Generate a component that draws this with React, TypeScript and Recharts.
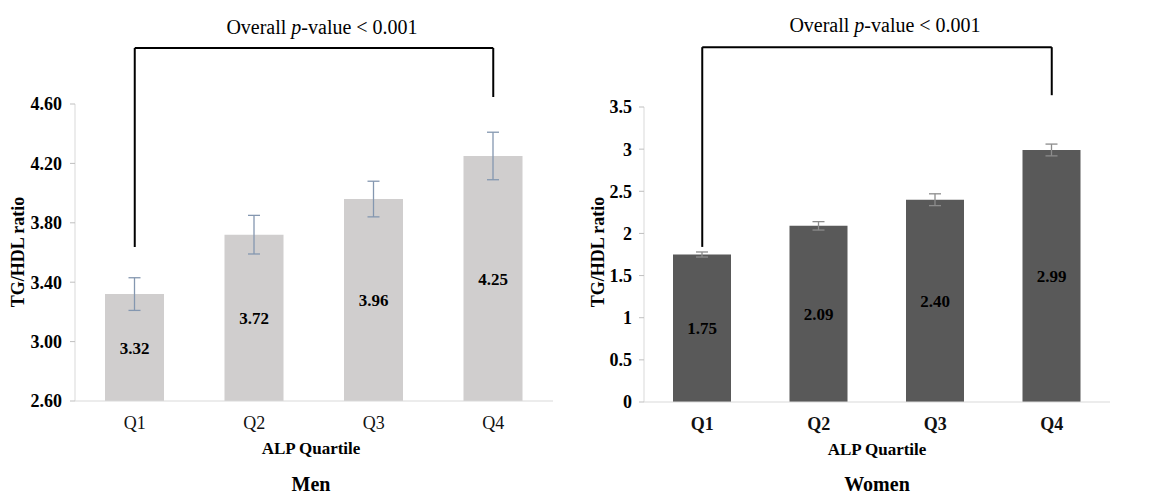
import { BarChart, Bar, XAxis, YAxis, ErrorBar, LabelList, ReferenceLine } from 'recharts'

const serif = '"Liberation Serif", "Times New Roman", serif'

const categories = ['Q1', 'Q2', 'Q3', 'Q4']
const menRatio = [3.32, 3.72, 3.96, 4.25]
const menSe = [0.11, 0.13, 0.12, 0.16]
const womenRatio = [1.75, 2.09, 2.4, 2.99]
const womenSe = [0.03, 0.05, 0.07, 0.07]
const menTicks = [2.6, 3.0, 3.4, 3.8, 4.2, 4.6]
const womenTicks = [0, 0.5, 1, 1.5, 2, 2.5, 3, 3.5]

// bracket levels in data units (top bar, left foot, right foot)
const menBracket = [4.977, 3.637, 4.647]
const womenBracket = [4.21, 1.84, 3.64]

const menData = categories.map((cat, i) => ({ cat, value: menRatio[i], err: menSe[i] }))
const womenData = categories.map((cat, i) => ({ cat, value: womenRatio[i], err: womenSe[i] }))

type PanelProps = {
  left: number
  width: number
  data: { cat: string; value: number; err: number }[]
  domain: [number, number]
  ticks: number[]
  tickFmt: (v: number) => string
  yAxisWidth: number
  marginTop: number
  marginRight: number
  marginBottom: number
  tickMargin: number
  barColor: string
  barSize: number
  errColor: string
  xTickBold: boolean
  bracket: number[]
  titleX: number
  titleY: number
  yLabelX: number
  xLabelX: number
  xLabelY: number
  nameY: number
  name: string
}

function Txt({ x, y, size, bold, children, rotate }: any) {
  return (
    <div
      style={{
        position: 'absolute',
        left: x,
        top: y,
        transform: `translate(-50%, -50%)${rotate ? ' rotate(-90deg)' : ''}`,
        fontFamily: serif,
        fontSize: size,
        fontWeight: bold ? 700 : 400,
        lineHeight: 1.1,
        whiteSpace: 'nowrap',
        color: '#000',
      }}
    >
      {children}
    </div>
  )
}

function Panel(p: PanelProps) {
  const [top, lf, rf] = p.bracket
  return (
    <>
      <div style={{ position: 'absolute', left: p.left, top: 0 }}>
        <BarChart
          width={p.width}
          height={497}
          data={p.data}
          margin={{ top: p.marginTop, right: p.marginRight, bottom: 0, left: 0 }}
        >
          <XAxis
            dataKey="cat"
            height={p.marginBottom}
            axisLine={{ stroke: '#d9d9d9' }}
            tickLine={false}
            tickSize={0}
            tickMargin={15}
            tick={{ fill: '#111', fontSize: 18, fontWeight: p.xTickBold ? 700 : 400, fontFamily: serif }}
          />
          <YAxis
            width={p.yAxisWidth}
            domain={p.domain}
            ticks={p.ticks}
            tickFormatter={p.tickFmt}
            axisLine={{ stroke: '#d9d9d9' }}
            tickLine={{ stroke: '#bfbfbf' }}
            tickSize={5}
            tickMargin={p.tickMargin}
            allowDataOverflow
            tick={{ fill: '#000', fontSize: 18, fontWeight: 700, fontFamily: serif }}
          />
          <Bar dataKey="value" fill={p.barColor} barSize={p.barSize} isAnimationActive={false}>
            <ErrorBar dataKey="err" direction="y" width={6} stroke={p.errColor} strokeWidth={1.3} isAnimationActive={false} />
            <LabelList
              dataKey="value"
              position="center"
              formatter={(v: any) => Number(v).toFixed(2)}
              fill="#000"
              fontSize={17}
              fontWeight={700}
              fontFamily={serif}
            />
          </Bar>
          <ReferenceLine
            segment={[{ x: 'Q1', y: top }, { x: 'Q4', y: top }]}
            stroke="#000"
            strokeWidth={2}
            ifOverflow="visible"
          />
          <ReferenceLine
            segment={[{ x: 'Q1', y: lf }, { x: 'Q1', y: top }]}
            stroke="#000"
            strokeWidth={2}
            ifOverflow="visible"
          />
          <ReferenceLine
            segment={[{ x: 'Q4', y: rf }, { x: 'Q4', y: top }]}
            stroke="#000"
            strokeWidth={2}
            ifOverflow="visible"
          />
        </BarChart>
      </div>
      <Txt x={p.titleX} y={p.titleY} size={20}>
        Overall <i>p</i>-value &lt; 0.001
      </Txt>
      <Txt x={p.yLabelX} y={252} size={18} bold rotate>
        TG/HDL ratio
      </Txt>
      <Txt x={p.xLabelX} y={p.xLabelY} size={17} bold>
        ALP Quartile
      </Txt>
      <Txt x={p.xLabelX} y={p.nameY} size={20} bold>
        {p.name}
      </Txt>
    </>
  )
}

export default function App() {
  return (
    <div style={{ position: 'absolute', left: 0, top: 0, width: 1169, height: 497, background: '#fff', overflow: 'hidden' }}>
      <Panel
        left={0}
        width={580}
        data={menData}
        domain={[2.6, 4.6]}
        ticks={menTicks}
        tickFmt={(v) => v.toFixed(2)}
        yAxisWidth={75}
        marginTop={104}
        marginRight={27}
        marginBottom={96}
        tickMargin={8}
        barColor="#d0cece"
        barSize={59}
        errColor="#8497b0"
        xTickBold={false}
        bracket={menBracket}
        titleX={322}
        titleY={27}
        yLabelX={19}
        xLabelX={311}
        xLabelY={449}
        nameY={484}
        name="Men"
      />
      <Panel
        left={580}
        width={589}
        data={womenData}
        domain={[0, 3.5]}
        ticks={womenTicks}
        tickFmt={(v) => String(v)}
        yAxisWidth={64}
        marginTop={107}
        marginRight={59}
        marginBottom={95}
        tickMargin={7}
        barColor="#595959"
        barSize={58}
        errColor="#8c8c8c"
        xTickBold={true}
        bracket={womenBracket}
        titleX={885}
        titleY={25}
        yLabelX={599}
        xLabelX={877}
        xLabelY={450}
        nameY={484}
        name="Women"
      />
    </div>
  )
}
